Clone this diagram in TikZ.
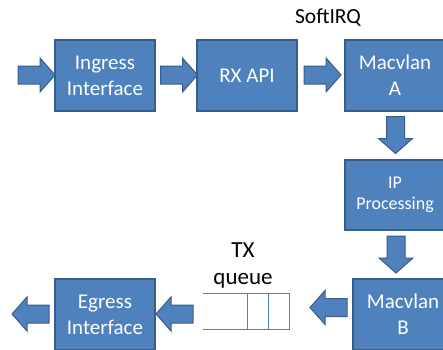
\documentclass[tikz,border=0pt]{standalone}
\usepackage{fontspec}
\setmainfont{Carlito}
\definecolor{boxfill}{HTML}{4F81BD}
\definecolor{boxline}{HTML}{385D8A}
\tikzset{
  box/.style={draw=boxline, fill=boxfill, line width=1.2pt, minimum width=100pt, minimum height=71pt, inner sep=0pt, text=white, align=center, font=\fontsize{21}{26}\selectfont},
  arrowbody/.style={draw=boxline, fill=boxfill, line width=1pt, line join=miter},
  barrow/.pic={
    \draw[arrowbody] (-18.5,-9) -- (3.5,-9) -- (3.5,-17) -- (18.5,0) -- (3.5,17) -- (3.5,9) -- (-18.5,9) -- cycle;
    \coordinate (-tip) at (18.5,0);
  },
  qline/.style={draw=boxfill, line width=0.9pt},
  lbl/.style={text=black, align=center, inner sep=0pt}
}
\begin{document}
\begin{tikzpicture}[x=1pt,y=-1pt]
\clip (0,0) rectangle (443,349);
\fill[white] (0,0) rectangle (443,349);
\node[box] (ing) at (105,75.5) {Ingress\\Interface};
\node[box] (rx) at (247,75.5) {RX API};
\node[box] (mA) at (395,75.5) {Macvlan\\A};
\node[box, minimum height=70pt, font=\fontsize{18}{21}\selectfont] (ip) at (395,195) {IP\\Processing};
\node[box] (mB) at (403,314.5) {Macvlan\\B};
\node[box] (eg) at (105,314.5) {Egress\\Interface};
\pic (a1) at (36.5,75) {barrow};
\pic (a2) at (179,75) {barrow};
\pic (a3) at (322.5,75) {barrow};
\pic[rotate=-90] (a4) at (395.5,135) {barrow};
\pic[rotate=-90] (a5) at (396,254.5) {barrow};
\pic[rotate=180] (a6) at (328.5,307.5) {barrow};
\pic[rotate=180] (a7) at (174.5,314) {barrow};
\pic[rotate=180] (a8) at (30.5,314) {barrow};
\node[inner sep=0pt, minimum width=86pt, minimum height=35pt] (q) at (246,311.5) {};
\draw[qline] (q.north west) -- (q.north east) -- (q.south east) -- (q.south west);
\draw[qline] (247,294) -- (247,329);
\draw[qline] (268,294) -- (268,329);
\node[lbl, anchor=base, font=\fontsize{21.5}{26}\selectfont] (sirq) at (328,23) {SoftIRQ};
\node[lbl, font=\fontsize{23}{27}\selectfont] (txq) at (243,265) {TX\\queue};
\end{tikzpicture}
\end{document}
